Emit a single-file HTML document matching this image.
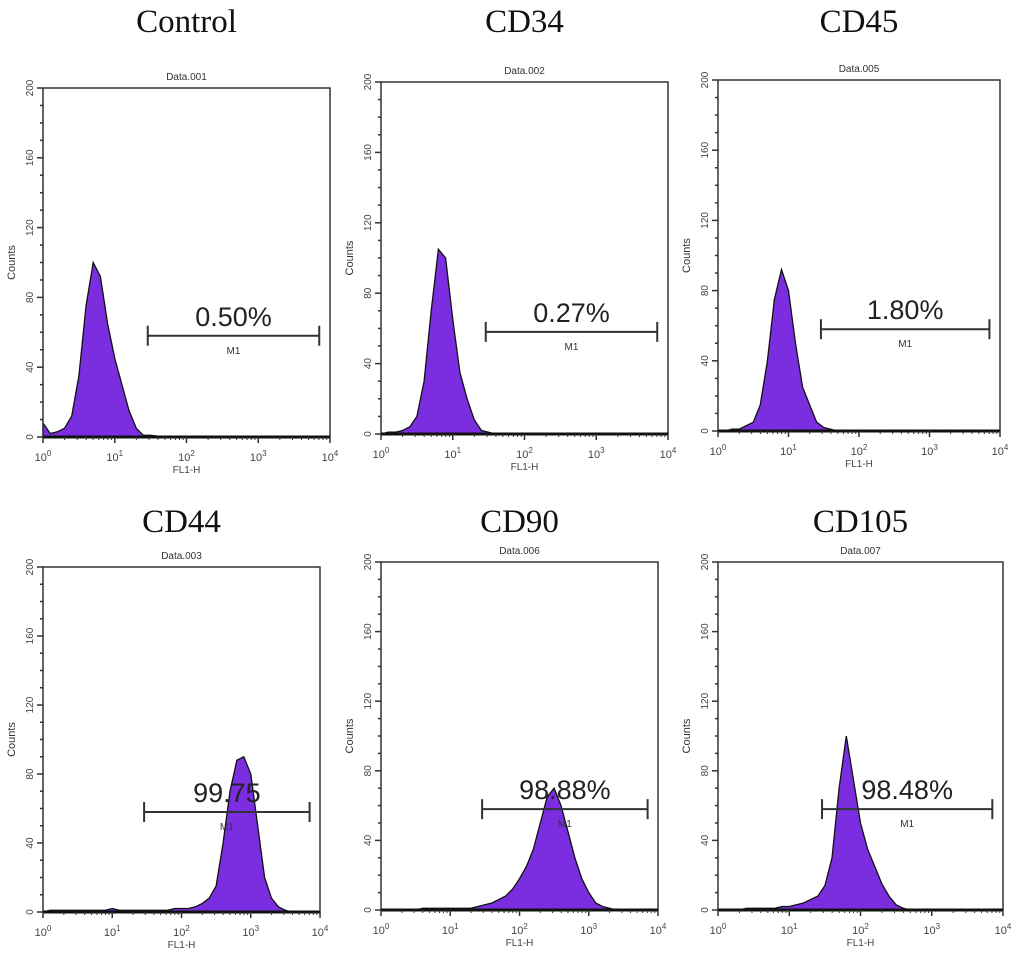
<!DOCTYPE html>
<html><head><meta charset="utf-8"><style>
body{margin:0;background:#fff;width:1020px;height:969px;overflow:hidden}
svg{display:block}
</style></head><body>
<svg id="fig" width="1020" height="969" xmlns="http://www.w3.org/2000/svg"></svg>
<script>
const titles=["Control","CD34","CD45","CD44","CD90","CD105"];
const dataNames=["Data.001","Data.002","Data.005","Data.003","Data.006","Data.007"];
const percents=["0.50%","0.27%","1.80%","99.75","98.88%","98.48%"];
const logBins=[0,0.1,0.2,0.3,0.4,0.5,0.6,0.7,0.8,0.9,1.0,1.1,1.2,1.3,1.4,1.5,1.6,1.7,1.8,1.9,2.0,2.1,2.2,2.3,2.4,2.5,2.6,2.7,2.8,2.9,3.0,3.1,3.2,3.3,3.4,3.5,3.6,3.7,3.8,3.9,4.0];
const countsControl=[8,2,3,5,12,35,75,100,92,65,45,30,15,5,1,1,0.5,0.5,0,0,0,0,0,0,0,0,0,0,0,0,0,0,0,0,0,0,0,0,0,0,0];
const countsCD34=[0,1,1,2,4,10,30,70,105,100,65,35,20,8,2,1,0,0,0,0,0,0,0,0,0,0,0,0,0,0,0,0,0,0,0,0,0,0,0,0,0];
const countsCD45=[0,0,1,1,3,5,15,40,75,92,80,50,25,15,5,2,1,0,0,0,0,0,0,0,0,0,0,0,0,0,0,0,0,0,0,0,0,0,0,0,0];
const countsCD44=[0,1,1,1,1,1,1,1,1,1,2,1,1,1,1,1,1,1,1,2,2,2,3,5,8,15,40,70,88,90,80,50,20,8,3,1,0,0,0,0,0];
const countsCD90=[0,0,0,0,0,0,1,1,1,1,1,1,1,1,2,3,4,6,8,12,18,25,35,50,65,70,60,45,30,18,10,4,2,1,0,0,0,0,0,0,0];
const countsCD105=[0,0,0,0,1,1,1,1,1,2,2,3,4,6,8,14,30,70,100,75,50,35,25,15,8,3,1,0,0,0,0,0,0,0,0,0,0,0,0,0,0];
const allCounts=[countsControl,countsCD34,countsCD45,countsCD44,countsCD90,countsCD105];
const yTicks=[0,40,80,120,160,200];
const xTicks=[0,1,2,3,4];
const markerRange=[1.46,3.85];
const markerCount=58;
const boxes=[[43,88,330,437],[381,82,668,434],[718,80,1000,431],[43,567,320,912],[381,562,658,910],[718,562,1003,910]];
const titleY=[32,32,32,532,532,532];
const NS="http://www.w3.org/2000/svg";
const svg=document.getElementById('fig');
function mk(t,a,p){const e=document.createElementNS(NS,t);for(const k in a)e.setAttribute(k,a[k]);(p||svg).appendChild(e);return e;}
allCounts.forEach((counts,i)=>{
  const [x0,y0,x1,y1]=boxes[i];
  const g=mk('g',{});
  
  
  const xs=v=>x0+(v/4)*(x1-x0);
  const ys=v=>y1-(v/200)*(y1-y0);
  const t=mk('text',{x:(x0+x1)/2,y:titleY[i],'text-anchor':'middle','font-family':'Liberation Serif,serif','font-size':33,fill:'#111'},g);
  t.textContent=titles[i];
  
  
  const d=mk('text',{x:(x0+x1)/2,y:y0-8,'text-anchor':'middle','font-family':'Liberation Sans,sans-serif','font-size':10,fill:'#333'},g);
  d.textContent=dataNames[i];
  
  
  let pts=`M${xs(logBins[0])},${ys(0)} `;
  counts.forEach((c,j)=>{pts+=`L${xs(logBins[j]).toFixed(1)},${ys(c).toFixed(1)} `;});
  pts+=`L${xs(logBins[logBins.length-1])},${ys(0)} Z`;
  const h=mk('path',{d:pts,fill:'#7a2ee0',stroke:'#111','stroke-width':1.3},g);
  
  
  const b=mk('rect',{x:x0,y:y0,width:x1-x0,height:y1-y0,fill:'none',stroke:'#333','stroke-width':1.5},g);
  
  
  mk('line',{x1:x0,y1:y1,x2:x1,y2:y1,stroke:'#111','stroke-width':3},g);
  for(let v=0;v<=200;v+=10){mk('line',{x1:x0-(v%40?3:6),y1:ys(v),x2:x0,y2:ys(v),stroke:'#333','stroke-width':1.5},g);}
  yTicks.forEach(v=>{
    const tt=mk('text',{x:x0-10,y:ys(v),'text-anchor':'middle','font-family':'Liberation Sans,sans-serif','font-size':10,fill:'#444',transform:`rotate(-90 ${x0-10} ${ys(v)})`},g);
    tt.textContent=v;
    
    
  });
  const yl=mk('text',{x:x0-28,y:(y0+y1)/2,'text-anchor':'middle','font-family':'Liberation Sans,sans-serif','font-size':11,fill:'#333',transform:`rotate(-90 ${x0-28} ${(y0+y1)/2})`},g);
  yl.textContent='Counts';
  
  
  xTicks.forEach(v=>{
    mk('line',{x1:xs(v),y1:y1,x2:xs(v),y2:y1+6,stroke:'#333','stroke-width':1.5},g);
    if(v<4)for(let k=2;k<10;k++){const xv=xs(v+Math.log10(k));mk('line',{x1:xv,y1:y1,x2:xv,y2:y1+3,stroke:'#333'},g);}
    const tt=mk('text',{x:xs(v),y:y1+24,'text-anchor':'middle','font-family':'Liberation Sans,sans-serif','font-size':11,fill:'#444'},g);
    tt.innerHTML=`10<tspan dy="-5" font-size="8">${v}</tspan>`;
    
    
  });
  const xl=mk('text',{x:xs(2),y:y1+36,'text-anchor':'middle','font-family':'Liberation Sans,sans-serif','font-size':10,fill:'#444'},g);
  xl.textContent='FL1-H';
  
  
  const mx0=xs(markerRange[0]),mx1=xs(markerRange[1]),my=ys(markerCount);
  const m=mk('path',{d:`M${mx0},${my-10}V${my+10}M${mx0},${my}H${mx1}M${mx1},${my-10}V${my+10}`,stroke:'#333','stroke-width':2,fill:'none'},g);
  
  
  const ml=mk('text',{x:(mx0+mx1)/2,y:my+18,'text-anchor':'middle','font-family':'Liberation Sans,sans-serif','font-size':10,fill:'#333'},g);
  ml.textContent='M1';
  
  
  const pl=mk('text',{x:(mx0+mx1)/2,y:my-10,'text-anchor':'middle','font-family':'Liberation Sans,sans-serif','font-size':27,fill:'#222'},g);
  pl.textContent=percents[i];
  
  
});
</script>
</body></html>
